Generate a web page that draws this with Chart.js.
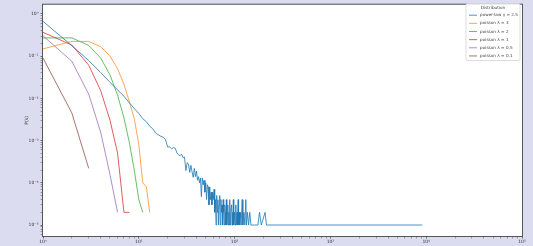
<!DOCTYPE html>
<html>
<head>
<meta charset="utf-8">
<script src="https://cdn.jsdelivr.net/npm/chart.js@4.4.1/dist/chart.umd.min.js"></script>
<style>
  html, body { margin: 0; padding: 0; background: #dcdcf0; }
  #wrap { width: 533px; height: 246px; }
</style>
</head>
<body>
<div id="wrap"><canvas id="chart" width="533" height="246"></canvas></div>
<script>
// degree k for the power-law sample, and its frequencies
const powerK = [1, 2, 3, 4, 5, 6, 7, 8, 9, 10, 11, 12, 13, 14, 15, 16, 17, 18, 19, 20,
  21, 22, 23, 24, 25, 26, 27, 28, 29, 30, 31, 32, 33, 34, 35, 36, 37, 38, 39, 40,
  41, 42, 43, 44, 45, 46, 47, 48, 49, 50, 51, 52, 53, 54, 55, 56, 57, 58, 59, 60,
  61, 62, 63, 64, 65, 66, 67, 68, 69, 70, 71, 72, 73, 74, 75, 76, 77, 78, 79, 80,
  81, 82, 83, 84, 85, 86, 87, 88, 89, 90, 91, 93, 94, 95, 96, 97, 98, 100, 101, 103,
  104, 106, 107, 109, 110, 112, 113, 115, 117, 120, 122, 125, 128, 131, 133, 136, 140, 144, 148, 161,
  175, 182, 190, 208, 215, 9100];
const powerP = [0.67, 0.177, 0.079, 0.041, 0.024, 0.016, 0.0112, 0.0078, 0.0057, 0.0044,
  0.0033, 0.0028, 0.0022, 0.0019, 0.0015, 0.00137, 0.00126, 0.0012, 0.00105, 0.00071,
  0.00071, 0.00064, 0.00068, 0.00066, 0.00051, 0.00046, 0.00044, 0.00048, 0.00039, 0.00041,
  0.000195, 0.0003, 0.00028, 0.000176, 0.00026, 0.00018, 0.000135, 0.00022, 0.00014, 0.00019,
  0.000115, 0.00014, 0.0001, 0.00013, 0.000047, 0.00013, 0.00009, 0.000115, 0.00006, 0.0001,
  0.00004, 0.00009, 0.00008, 0.00003, 0.00008, 0.00004, 0.00006, 0.00003, 0.00006, 0.00004,
  0.00007, 0.00002, 0.00004, 0.00001, 0.00005, 0.00002, 0.00004, 0.00001, 0.00003, 0.00005,
  0.00001, 0.00004, 0.00002, 0.00003, 0.00001, 0.00004, 0.00002, 0.00001, 0.00003, 0.00002,
  0.00001, 0.00004, 0.00001, 0.00002, 0.00003, 0.00001, 0.00002, 0.00001, 0.00004, 0.00001,
  0.00002, 0.00003, 0.00001, 0.00002, 0.00001, 0.00004, 0.00001, 0.00002, 0.00001, 0.00003,
  0.00001, 0.00002, 0.00001, 0.00004, 0.00001, 0.00002, 0.00001, 0.00002, 0.00001, 0.00004,
  0.00001, 0.00002, 0.00001, 0.00004, 0.00001, 0.00002, 0.00001, 0.00002, 0.00001, 0.00001,
  0.00001, 0.00002, 0.00001, 0.00002, 0.00001, 0.00001];

// poisson pmfs, k = 1, 2, 3, ...
const poisson3 = [0.149, 0.224, 0.224, 0.168, 0.101, 0.0504, 0.0216, 0.0081, 0.0032, 0.0008, 0.0001, 0.00008, 0.00002];
const poisson2 = [0.271, 0.271, 0.18, 0.0902, 0.0361, 0.012, 0.00344, 0.00086, 0.00019, 0.00004, 0.00002];
const poisson1 = [0.368, 0.184, 0.0613, 0.0153, 0.00307, 0.00051, 0.00002, 0.00002];
const poisson05 = [0.303, 0.0758, 0.0126, 0.00158, 0.000158, 0.00002];
const poisson01 = [0.0905, 0.00452, 0.00022];

const labels = ['power-law γ = 2.5', 'poisson λ = 3', 'poisson λ = 2', 'poisson λ = 1', 'poisson λ = 0.5', 'poisson λ = 0.1'];
const colors = ['rgba(31,119,180,0.8)', 'rgba(255,127,14,0.7)', 'rgba(44,160,44,0.7)',
  'rgba(214,39,40,0.75)', 'rgba(148,103,189,0.75)', 'rgba(140,86,75,0.8)'];

const FONT = 'DejaVu Sans';

function pts(ks, ps) {
  return ps.map((p, i) => ({ x: ks ? ks[i] : i + 1, y: p }));
}

const series = [pts(powerK, powerP), pts(null, poisson3), pts(null, poisson2),
  pts(null, poisson1), pts(null, poisson05), pts(null, poisson01)];

const sup = { '-': '⁻', '0': '⁰', '1': '¹', '2': '²', '3': '³', '4': '⁴', '5': '⁵' };
function decadeLabel(v) {
  const e = Math.round(Math.log10(v));
  if (Math.abs(Math.log10(v) - e) > 1e-9) return '';
  return '10' + String(e).split('').map(c => sup[c]).join('');
}

function logTicks(scale) {
  const ticks = [];
  const lo = Math.floor(Math.log10(scale.min)), hi = Math.ceil(Math.log10(scale.max));
  for (let e = lo; e <= hi; e++) {
    for (let m = 1; m <= 9; m++) {
      const v = m * Math.pow(10, e);
      if (v >= scale.min * 0.9999 && v <= scale.max * 1.0001) ticks.push({ value: v, major: m === 1 });
    }
  }
  scale.ticks = ticks;
}

const isMajor = ctx => ctx.tick && Math.abs(Math.log10(ctx.tick.value) - Math.round(Math.log10(ctx.tick.value))) < 1e-9;

const frame = {
  id: 'frame',
  beforeDraw(chart) {
    const { ctx, chartArea: a } = chart;
    ctx.save();
    ctx.fillStyle = '#dcdcf0';
    ctx.fillRect(0, 0, chart.width, chart.height);
    ctx.fillStyle = '#ffffff';
    ctx.fillRect(a.left, a.top, a.right - a.left, a.bottom - a.top);
    ctx.restore();
  },
  afterDraw(chart) {
    const { ctx, chartArea: a } = chart;
    ctx.save();
    ctx.strokeStyle = '#555555';
    ctx.lineWidth = 1;
    ctx.strokeRect(a.left - 0.5, a.top - 0.5, a.right - a.left + 1, a.bottom - a.top + 1);

    // legend box, upper right
    const x0 = 466, y0 = 3.5, w = 54, h = 57;
    ctx.fillStyle = 'rgba(255,255,255,0.85)';
    ctx.strokeStyle = '#d4d4d4';
    ctx.lineWidth = 0.8;
    ctx.beginPath();
    ctx.roundRect(x0, y0, w, h, 1.5);
    ctx.fill();
    ctx.stroke();
    ctx.fillStyle = '#444444';
    ctx.font = '4.2px "' + FONT + '"';
    ctx.textBaseline = 'middle';
    ctx.textAlign = 'center';
    ctx.fillText('Distribution', x0 + w / 2, 7.5);
    ctx.textAlign = 'left';
    chart.data.datasets.forEach((ds, i) => {
      const y = 15.2 + i * 8.15;
      ctx.strokeStyle = ds.borderColor;
      ctx.lineWidth = 1;
      ctx.beginPath();
      ctx.moveTo(469, y);
      ctx.lineTo(477, y);
      ctx.stroke();
      ctx.fillText(ds.label, 480, y);
    });
    ctx.restore();
  }
};

new Chart(document.getElementById('chart'), {
  type: 'line',
  data: {
    datasets: series.map((d, i) => ({
      label: labels[i],
      data: d,
      borderColor: colors[i],
      backgroundColor: colors[i],
      borderWidth: 1,
      pointRadius: 0,
      tension: 0
    }))
  },
  options: {
    responsive: false,
    animation: false,
    devicePixelRatio: 1,
    layout: { padding: { top: 3, right: 11, left: 0, bottom: 0 } },
    plugins: { legend: { display: false }, tooltip: { enabled: false } },
    scales: {
      x: {
        type: 'logarithmic',
        min: 1,
        max: 100000,
        afterBuildTicks: logTicks,
        afterFit: s => { s.height = 10; },
        border: { display: false },
        grid: {
          drawOnChartArea: false,
          tickLength: 2.5,
          tickColor: '#555555',
          tickWidth: ctx => isMajor(ctx) ? 0.8 : 0.5
        },
        ticks: {
          autoSkip: false,
          maxRotation: 0,
          padding: 1,
          color: '#333333',
          font: { family: FONT, size: 4.5 },
          callback: v => decadeLabel(v)
        }
      },
      y: {
        type: 'logarithmic',
        min: Math.pow(10, -5.26),
        max: Math.pow(10, 0.22),
        afterBuildTicks: logTicks,
        afterFit: s => { s.width = 43; },
        border: { display: false },
        grid: {
          drawOnChartArea: false,
          tickLength: 2.5,
          tickColor: '#555555',
          tickWidth: ctx => isMajor(ctx) ? 0.8 : 0.5
        },
        title: {
          display: true,
          text: 'P(k)',
          color: '#333333',
          font: { family: FONT, size: 4.5 },
          padding: { top: 24, bottom: 0 }
        },
        ticks: {
          autoSkip: false,
          padding: 2,
          color: '#333333',
          font: { family: FONT, size: 4.5 },
          callback: v => decadeLabel(v)
        }
      }
    }
  },
  plugins: [frame]
});
</script>
</body>
</html>
